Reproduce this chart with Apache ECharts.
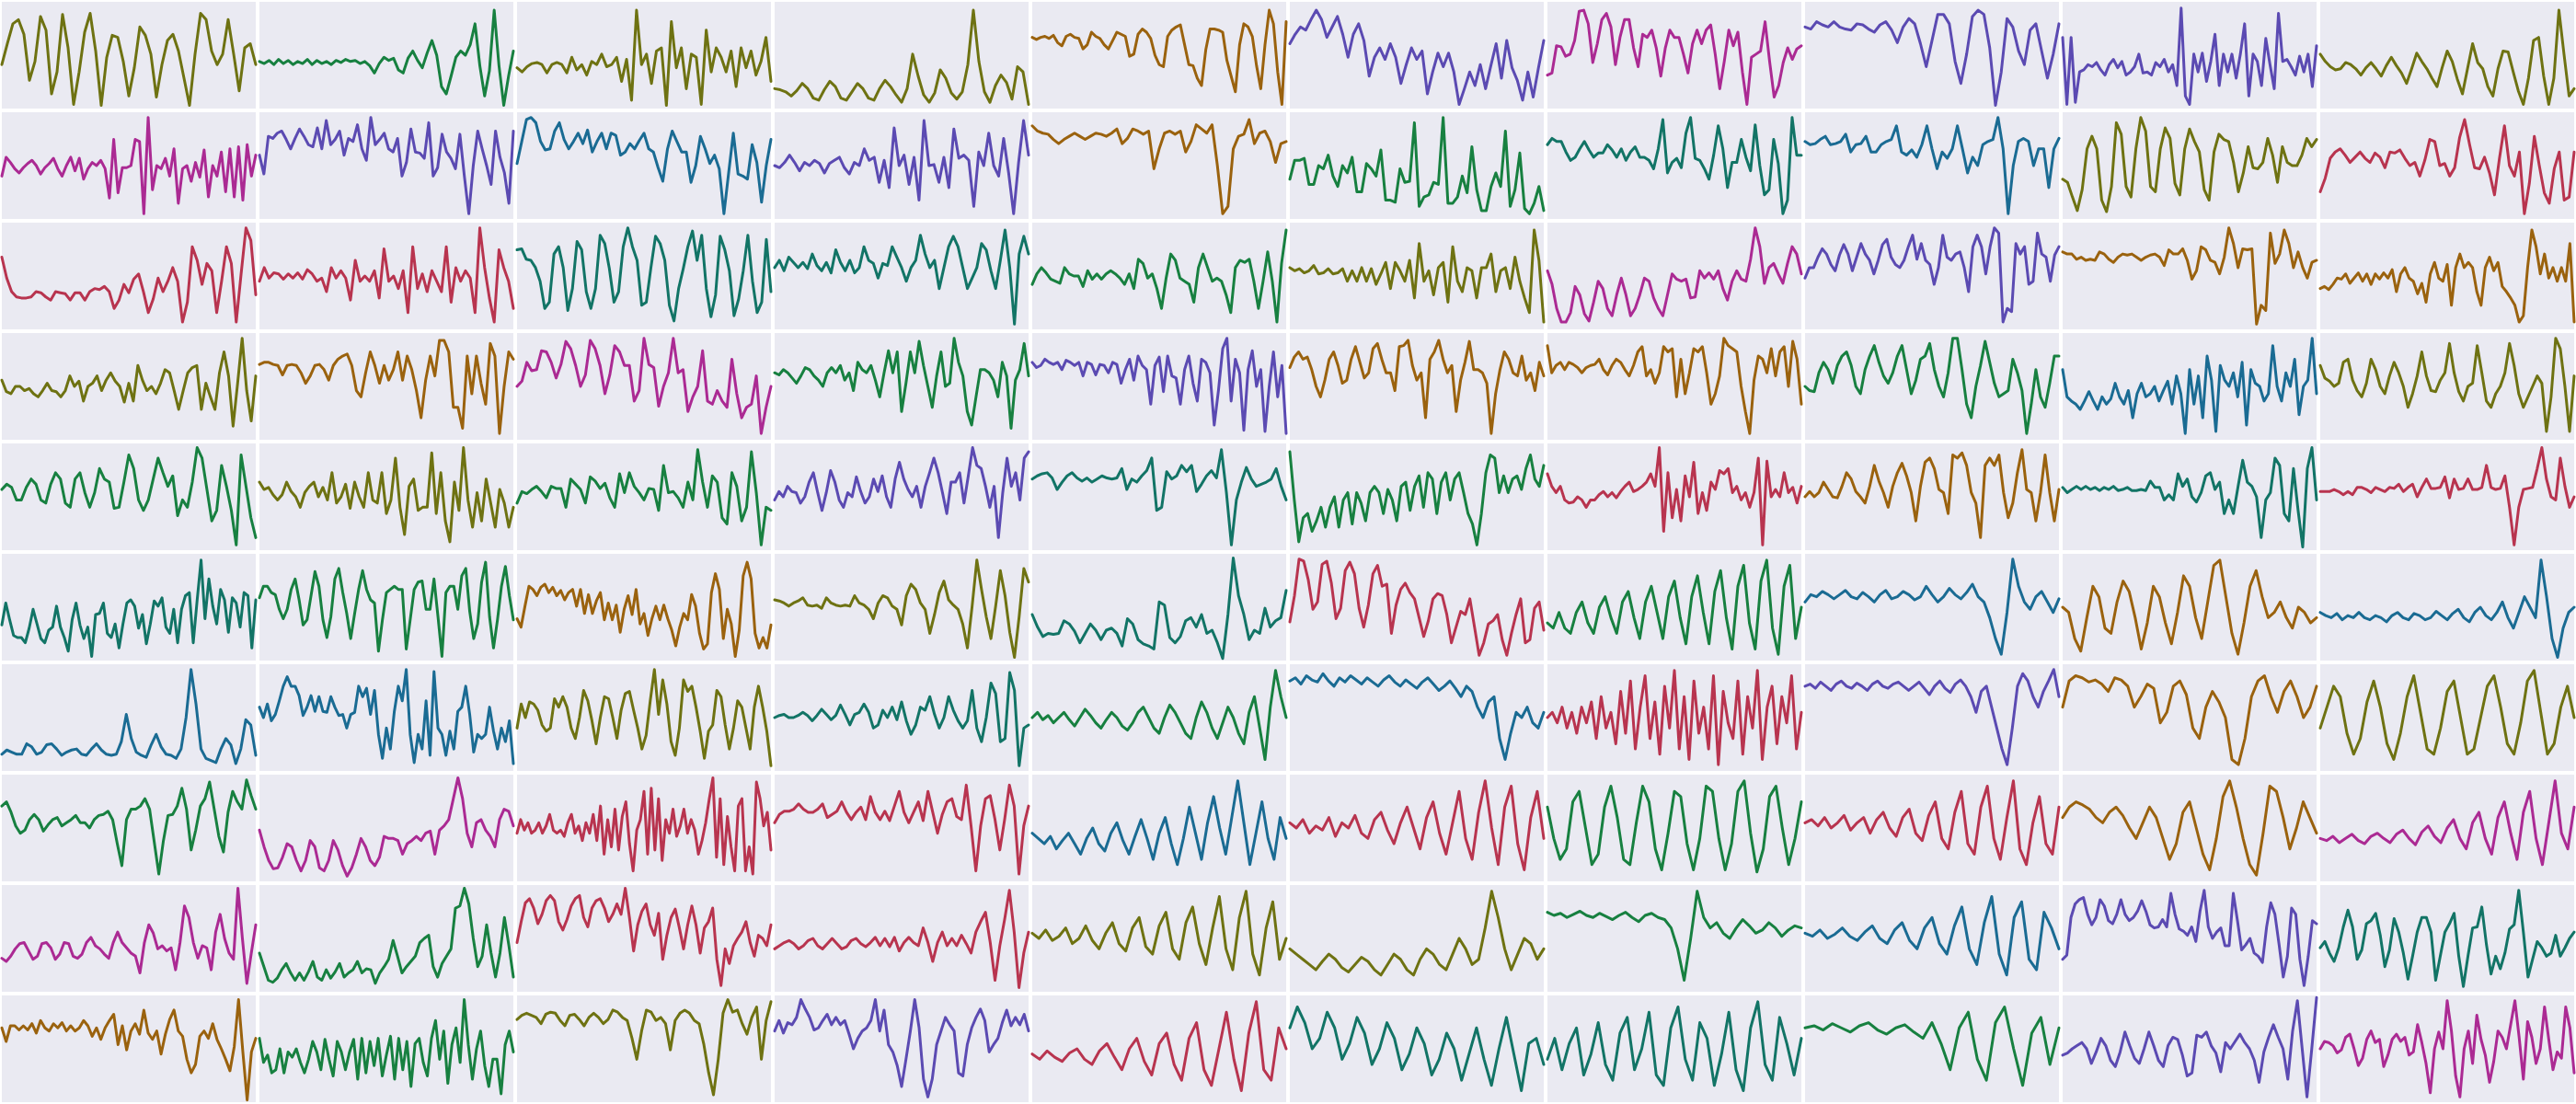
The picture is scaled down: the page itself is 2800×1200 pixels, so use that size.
<!DOCTYPE html>
<html><head><meta charset="utf-8">
<script src="https://cdn.jsdelivr.net/npm/echarts@6/dist/echarts.min.js"></script>
<style>html,body{margin:0;padding:0;background:#ffffff}#c{width:2800px;height:1200px}</style>
</head><body><div id="c"></div><script>
// Row 0
const v00=[41,61,80,84,70,26,44,87,74,13,34,89,57,3,34,72,90,54,2,48,69,67,44,11,38,77,69,51,10,41,64,70,54,28,2,51,90,84,54,41,51,84,51,16,57,61,41];
const v01=[44,42,45,41,46,42,45,41,44,42,46,41,45,42,44,41,45,43,46,44,45,42,44,40,33,42,48,45,47,36,33,47,54,45,38,52,64,50,20,13,30,48,54,50,60,80,40,11,35,93,40,2,30,54];
const v02=[38,34,39,42,43,41,33,41,43,41,33,48,36,41,31,44,41,51,39,41,48,25,46,7,93,41,51,23,54,57,2,82,38,57,18,51,48,3,74,34,57,48,34,54,20,57,38,54,31,44,67,25];
const v03=[18,17,15,11,16,23,18,9,7,17,25,20,9,7,15,23,18,9,7,18,26,20,12,5,18,51,30,12,5,14,36,28,14,8,15,41,93,44,15,5,21,31,24,8,39,34,3];
const v04=[67,65,67,68,66,69,62,59,68,70,67,66,56,60,72,68,66,60,56,64,72,70,68,49,51,70,75,72,66,50,41,39,68,74,77,79,60,41,40,28,21,55,75,75,74,72,45,30,15,60,80,77,68,40,18,60,93,80,34,3,82];
const v05=[61,70,77,74,84,93,84,67,77,87,70,48,70,80,64,30,48,57,46,61,48,23,41,57,46,54,13,34,52,39,52,34,3,18,34,21,41,18,40,61,28,64,38,26,7,34,10,38,64];
const v06=[31,33,59,58,49,51,64,92,93,80,43,61,84,90,77,41,67,84,84,57,39,70,67,74,57,30,57,74,67,67,51,33,61,74,61,74,79,51,18,44,74,59,72,34,3,48,51,54,82,44,10,21,43,57,46,56,59];
const v07=[77,75,82,79,77,82,77,75,74,80,79,75,72,79,82,74,62,77,85,80,61,39,64,89,89,80,44,23,51,87,93,89,57,2,34,85,77,54,41,74,80,54,28,51,80];
const v08=[67,3,67,5,34,36,41,39,43,36,31,41,46,38,44,31,34,39,51,33,34,31,43,39,46,34,41,21,95,11,3,51,34,52,25,44,70,21,51,34,51,28,51,80,11,51,44,21,66,41,18,90,44,46,39,31,49,34,51,20,59];
const v09=[51,44,39,36,37,43,41,37,31,38,43,37,30,40,48,40,33,23,37,52,44,37,28,20,38,54,44,27,13,37,61,43,37,20,11,37,54,53,34,16,3,28,64,67,30,3,28,93,51,11,18];
// Row 1
const v10=[40,58,53,47,43,48,52,55,50,42,48,52,57,47,40,50,58,45,57,37,47,53,50,55,47,19,75,24,48,48,50,75,73,4,96,27,50,47,57,40,66,14,47,50,35,53,39,65,20,50,40,63,25,66,20,68,17,70,40,60];
const v11=[60,42,78,76,81,83,75,66,76,85,78,70,68,86,66,93,70,75,83,60,76,73,89,66,55,96,70,75,81,66,63,76,40,53,85,63,62,57,91,40,48,80,63,57,47,80,40,4,50,83,66,50,32,83,58,43,14,83];
const v12=[52,73,94,96,91,73,65,66,83,91,75,66,73,81,71,84,63,73,81,66,81,79,60,63,71,66,74,81,66,63,48,35,66,83,73,63,63,34,50,78,66,52,60,47,4,43,81,42,40,37,70,53,15,50,75];
const v13=[50,48,53,60,53,45,53,50,55,52,43,52,55,58,48,42,53,50,66,55,58,34,55,29,86,50,60,32,58,17,93,50,51,34,58,29,85,57,60,55,11,63,50,81,50,40,76,43,4,53,93,60];
const v14=[88,83,81,80,75,71,75,78,81,78,75,78,81,80,78,81,85,71,76,85,83,80,83,47,66,81,83,80,83,63,73,89,85,81,89,50,4,11,66,78,80,94,71,81,83,73,53,71,73];
const v15=[37,55,55,57,32,32,50,47,60,40,30,50,43,58,25,25,52,47,40,65,17,17,15,47,34,35,91,11,20,22,34,32,96,14,14,20,40,24,68,27,7,7,30,43,30,83,11,27,62,9,4,14,30,7];
const v16=[70,76,73,73,63,55,58,66,73,65,58,62,62,70,65,58,66,55,63,68,58,58,55,47,66,94,43,53,57,48,81,96,57,55,47,37,60,88,66,29,53,53,75,58,45,89,50,22,27,75,52,4,17,96,60,60];
const v17=[73,70,71,75,78,70,71,73,80,63,70,71,78,63,63,70,73,75,88,63,60,65,58,70,88,66,47,63,57,66,88,66,43,58,50,70,73,75,96,66,4,50,73,76,73,50,66,66,29,66,76];
const v18=[37,34,20,7,27,66,78,66,17,6,30,91,80,30,20,66,96,83,30,25,66,86,76,33,22,66,85,73,63,27,17,63,80,75,73,53,25,43,68,48,47,53,76,60,34,68,53,50,50,60,76,68,75];
const v19=[25,38,57,63,66,60,53,58,63,57,53,62,58,48,63,62,65,57,50,53,40,55,75,73,50,52,40,48,77,94,70,48,47,58,43,22,57,88,50,40,63,4,33,78,50,24,14,47,63,17,20,63];
// Row 2
const v20=[68,48,35,30,29,29,30,35,34,30,27,35,34,33,27,34,34,27,35,38,37,40,35,19,27,42,34,47,52,35,15,28,48,35,45,58,45,6,25,78,65,42,62,55,15,45,78,62,6,52,96,84,32];
const v21=[45,58,48,53,52,47,52,48,53,47,56,52,45,48,35,58,48,55,48,27,65,45,50,45,55,29,76,45,50,38,55,15,78,38,52,35,55,45,35,78,25,58,45,55,48,15,96,58,29,6,75,58,45,19];
const v22=[75,76,66,65,58,45,19,25,71,78,58,17,38,83,75,35,19,38,89,81,57,25,35,78,96,78,65,22,25,58,88,81,65,22,7,38,57,78,93,65,89,38,11,32,88,75,55,12,28,55,89,45,15,25,85,35];
const v23=[58,65,55,68,63,58,63,57,71,60,55,63,53,75,63,55,65,53,58,78,65,62,48,62,60,78,68,58,45,58,65,89,71,58,65,38,58,78,88,78,58,38,48,58,81,75,55,38,65,94,58,4,71,88,71];
const v24=[42,52,58,53,47,45,43,58,52,50,50,40,55,47,52,47,52,55,52,48,42,52,38,66,62,48,52,38,19,48,71,65,48,45,42,25,58,71,58,45,48,45,32,15,58,65,63,66,45,19,45,73,45,6,62,94];
const v25=[58,55,57,53,55,60,52,53,57,52,53,57,45,55,45,58,45,57,42,52,63,38,63,55,45,65,29,81,45,55,32,58,63,25,78,45,35,58,55,29,58,58,71,35,55,58,38,68,45,29,15,94,65,6];
const v26=[55,42,19,6,6,15,40,32,14,7,25,45,38,19,12,32,48,32,12,19,32,48,45,29,19,12,32,52,47,45,47,29,30,55,48,53,47,55,38,27,45,55,47,45,66,96,78,43,58,62,52,43,62,78,71,52];
const v27=[48,58,58,68,76,71,61,55,70,80,71,55,68,81,71,65,52,65,80,85,68,61,58,65,78,89,66,81,65,61,42,58,89,68,65,71,73,58,35,78,89,78,52,78,96,91,6,19,16,81,71,78,42,45,91,71,68,45,70,78];
const v28=[73,71,71,66,68,65,66,65,73,71,66,63,68,71,70,71,68,65,68,70,71,68,60,75,71,71,76,65,47,55,78,75,65,63,52,68,96,81,58,76,75,76,4,22,17,91,62,71,94,81,58,73,58,48,63,65];
const v29=[38,40,37,42,48,47,52,43,48,53,45,52,42,52,47,53,48,56,35,52,58,48,45,33,43,25,52,63,48,45,61,22,58,71,58,63,58,35,22,58,68,55,63,40,35,29,22,6,12,58,94,78,52,71,48,58,45,58,45,81,6];
// Row 3
const v30=[56,45,43,50,50,46,48,43,40,46,53,46,45,40,46,60,50,55,36,50,53,60,46,56,63,55,50,35,53,36,70,56,46,50,43,53,66,63,46,28,46,63,68,70,28,53,40,28,63,83,60,12,53,96,46,17,60];
const v31=[71,73,73,71,70,61,70,71,70,63,53,60,70,71,66,56,70,76,79,81,70,46,40,63,83,70,53,70,56,66,83,56,79,66,46,20,56,79,60,94,94,83,30,30,10,79,43,79,53,33,91,79,5,50,83,76];
const v32=[50,55,73,65,66,84,83,73,58,71,93,86,70,50,61,94,86,70,43,61,89,83,70,70,36,46,96,71,68,31,50,63,96,63,66,26,40,50,84,36,33,46,36,30,76,43,20,30,33,60,5,30,50];
const v33=[63,61,66,63,58,53,60,68,66,60,56,50,63,68,63,70,56,63,46,73,66,63,70,56,40,63,84,63,83,26,53,83,63,93,70,50,30,60,83,50,53,96,73,60,26,13,40,66,66,63,56,40,73,60,10,56,66,91,60];
const v34=[73,68,70,76,73,71,73,66,75,73,70,73,60,73,71,61,71,70,63,73,71,53,66,76,56,79,70,66,33,70,78,45,79,60,58,33,66,79,53,36,76,73,63,13,46,86,96,36,76,63,8,66,84,50,66,7,50,83,40,70,5];
const v35=[68,78,83,76,78,66,50,40,56,76,83,70,53,56,76,88,73,58,63,86,91,76,63,63,46,88,89,94,70,56,63,20,76,83,94,76,63,70,26,56,73,93,66,66,63,53,5,43,66,83,76,63,60,79,56,63,46,73,60];
const v36=[89,63,70,73,66,73,71,68,63,68,70,71,76,66,61,70,76,73,66,60,70,83,88,60,66,53,63,88,83,86,40,76,43,63,86,83,88,63,33,43,60,96,89,86,83,50,26,5,56,79,76,63,86,60,83,88,50,93,76,33];
const v37=[50,46,45,63,73,66,53,70,79,83,70,50,43,66,79,89,73,60,53,63,79,89,66,43,56,76,79,91,66,50,40,63,96,96,66,33,20,50,70,93,73,53,40,43,46,76,63,46,5,33,66,40,30,53,79,79];
const v38=[66,40,36,33,28,36,45,36,28,40,33,38,53,40,33,46,20,43,53,40,43,50,36,46,55,33,60,43,5,66,33,60,20,79,56,7,70,56,50,63,40,73,13,66,53,50,36,43,89,50,36,63,50,76,23,50,56,96,43];
const v39=[70,58,55,50,53,73,76,56,46,40,53,76,66,50,43,60,73,63,50,30,43,60,83,60,46,45,56,63,91,63,45,36,50,53,89,63,36,30,43,50,63,91,70,43,30,40,50,60,53,7,40,96,86,50,7,60];
// Row 4
const v40=[57,62,59,47,47,59,67,62,47,44,62,73,67,44,40,67,73,54,40,54,77,67,64,39,40,64,90,77,47,37,47,67,87,73,60,70,32,47,40,64,97,87,57,27,37,80,60,37,4,90,60,30,11];
const v41=[64,57,59,52,47,52,64,55,50,40,54,60,64,50,59,47,73,44,50,62,39,64,50,40,73,47,44,73,34,47,87,40,14,60,67,37,40,40,92,34,73,27,7,64,37,97,47,21,54,27,67,44,21,57,44,21,40];
const v42=[44,55,53,57,60,55,49,60,58,58,40,67,62,57,44,69,65,58,63,49,40,72,54,73,60,54,47,58,57,37,80,54,55,49,40,64,47,95,64,40,70,64,30,24,73,60,27,40,93,54,4,40,37];
const v43=[47,55,50,60,55,54,44,50,64,73,54,37,54,75,64,47,40,54,50,69,55,44,50,67,55,70,50,40,67,83,67,57,50,60,40,60,73,87,73,54,34,64,64,73,44,70,97,80,77,60,40,60,11,54,87,60,73,47,87,93];
const v44=[67,70,72,73,68,57,64,70,73,68,65,68,64,67,70,68,67,68,77,57,67,64,70,75,87,37,40,74,67,70,80,74,80,55,62,70,75,68,95,54,4,47,64,78,67,60,62,64,67,77,60,47];
const v45=[93,47,7,30,34,17,27,40,21,40,50,21,47,54,24,54,44,27,54,60,54,34,57,47,27,60,64,37,60,70,40,73,67,34,64,73,47,67,73,54,34,24,4,34,73,90,87,54,70,54,67,70,57,77,90,67,60,80];
const v46=[72,60,54,60,47,44,45,50,47,40,47,47,52,55,50,54,49,55,60,64,55,57,60,64,72,60,97,17,73,30,57,27,70,50,83,34,54,37,64,57,75,72,77,54,60,47,54,40,54,87,4,84,50,57,50,73,54,59,44,60];
const v47=[50,55,50,54,64,57,50,49,60,73,67,55,50,44,60,80,65,54,40,60,73,82,70,54,27,60,83,87,77,57,54,34,90,87,92,80,54,44,11,80,87,80,90,54,30,44,73,95,57,54,27,54,90,54,27,57];
const v48=[59,54,57,60,57,60,57,59,56,59,57,60,56,57,59,56,56,57,56,65,59,59,47,52,47,72,60,67,50,45,54,70,73,57,64,34,47,34,60,85,64,60,50,11,47,54,87,80,34,27,77,37,2,77,97,47];
const v49=[55,55,55,57,55,52,55,52,59,59,57,54,59,57,55,59,58,62,55,59,62,50,59,67,58,58,59,69,49,67,57,58,67,57,57,59,80,59,57,58,70,40,4,40,57,58,59,77,97,67,50,47,87,60,40,50];
// Row 5
const v50=[33,54,38,23,21,21,16,30,48,34,20,16,28,31,51,31,21,8,38,54,33,20,31,3,43,44,54,25,21,34,11,34,54,57,51,30,43,15,34,56,51,59,31,25,48,16,48,61,64,16,57,95,39,77,51,34,67,57,26,59,54,31,64,61,11,57];
const v51=[59,70,70,64,62,48,39,48,67,77,57,33,38,61,84,70,38,21,41,77,87,64,44,20,44,67,85,67,57,54,8,38,64,67,70,67,67,10,38,67,74,75,48,48,77,41,3,64,70,70,48,80,87,46,20,34,74,93,41,11,38,70,89,61,38];
const v52=[39,31,51,70,67,61,69,72,64,69,61,66,57,64,67,51,67,44,62,44,56,64,38,54,38,52,26,48,61,43,67,34,44,23,39,51,38,52,39,28,13,31,44,38,62,51,25,10,15,64,82,67,20,48,34,3,28,80,93,77,25,11,21,11,33];
const v53=[57,56,54,51,54,56,59,52,51,52,49,59,54,52,51,52,51,61,54,52,48,39,54,61,59,51,48,33,61,72,67,54,48,25,43,64,75,57,52,48,34,11,51,95,67,41,20,51,85,61,26,2,41,87,74];
const v54=[43,31,22,25,24,25,37,34,27,16,25,34,28,19,28,30,25,13,39,34,19,15,13,10,55,52,21,16,22,37,40,31,43,25,28,16,1,43,97,61,43,19,28,25,49,31,37,40,66];
const v55=[36,61,96,94,76,48,55,91,94,73,39,49,85,93,82,49,31,52,82,90,70,72,25,52,67,73,64,58,40,22,37,58,63,61,43,16,31,46,43,58,31,4,16,34,37,43,19,4,25,43,58,16,19,49,55,28];
const v56=[35,30,45,30,25,45,55,35,25,50,60,40,25,55,65,40,20,55,70,45,20,60,75,40,15,60,80,45,15,65,85,40,10,70,90,35,10,75,95,30,5,70,90,20,50];
const v57=[55,62,60,65,62,58,62,66,60,58,64,60,55,62,66,58,60,65,62,57,60,70,62,55,60,68,62,58,64,72,60,55,40,20,5,45,96,70,55,48,60,65,55,45,58];
const v58=[50,45,20,8,40,70,60,30,25,55,75,65,40,10,35,70,60,35,15,45,80,70,40,20,55,90,95,60,25,5,35,70,85,60,40,45,55,40,30,50,45,35,40];
const v59=[45,42,40,44,38,42,40,45,40,38,42,40,36,42,45,40,38,44,42,38,40,46,42,38,44,48,40,36,45,50,42,38,45,55,40,30,45,60,50,40,95,60,20,2,30,45,50];
// Row 6
const v60=[15,19,17,15,15,25,22,15,17,24,25,20,14,17,19,20,15,14,20,25,19,15,14,15,27,53,30,17,14,12,24,34,22,15,14,11,20,50,96,63,20,11,9,7,20,30,24,6,20,48,43,14];
const v61=[60,50,63,47,53,66,80,89,80,80,71,52,60,71,56,70,56,55,70,60,52,53,40,53,55,80,70,78,53,76,34,11,40,20,56,80,66,96,34,7,34,20,66,14,94,40,34,14,37,20,56,60,80,53,17,34,30,34,60,37,20,40,27,47,6];
const v62=[40,63,50,65,63,57,43,37,40,68,60,70,60,40,30,50,76,66,47,25,50,70,68,50,30,57,73,75,57,40,20,33,66,96,53,86,63,27,14,40,86,75,80,60,37,11,37,43,76,70,43,20,40,66,60,40,20,60,80,60,37,4];
const v63=[50,52,53,50,50,52,55,52,47,52,58,53,48,52,62,53,43,53,55,63,55,40,43,57,50,60,48,65,47,34,43,60,57,70,53,40,50,70,57,47,40,47,76,40,27,50,83,73,27,30,93,76,4,40,43];
const v64=[50,55,48,52,45,50,55,48,42,50,58,52,45,40,48,55,50,42,38,45,55,60,50,40,35,50,62,55,45,35,30,50,65,55,40,30,45,60,50,35,25,55,70,40,10,60,95,70,50];
const v65=[85,88,82,90,86,84,92,85,80,88,84,90,86,82,88,84,80,86,90,84,80,86,82,78,84,88,82,76,80,85,78,70,80,75,60,50,65,70,30,10,35,55,50,60,45,40,55];
const v66=[50,55,45,60,40,55,35,60,45,65,30,70,40,55,25,75,35,85,20,60,90,30,65,15,80,40,95,20,70,10,85,35,60,20,90,5,75,45,30,85,15,70,40,95,10,60,80,25,70,45,90,20,55];
const v67=[80,82,78,84,80,76,82,85,80,78,83,80,76,82,85,80,78,82,84,80,76,80,84,78,72,80,85,78,74,82,86,80,70,55,75,80,60,40,20,5,40,80,92,85,70,60,75,85,96,70];
const v68=[60,85,90,88,84,86,82,75,88,86,80,60,70,82,78,45,55,80,85,72,40,30,60,75,65,50,10,5,30,70,85,90,70,55,75,85,70,50,60,80];
const v69=[40,60,80,70,35,15,30,65,85,60,25,10,35,70,90,55,20,15,40,75,85,50,15,20,50,80,90,60,25,15,45,85,95,55,15,25,60,80,50];
// Row 7
const v70=[71,75,65,52,45,48,58,63,58,47,53,58,60,52,55,58,62,55,55,50,58,62,63,66,58,35,14,58,68,68,71,78,68,37,6,38,62,63,71,88,68,29,48,71,78,94,68,42,27,65,85,75,68,96,81,68];
const v71=[48,32,19,11,12,22,35,32,19,9,19,38,32,12,9,19,38,29,14,4,12,25,40,32,19,14,22,42,40,40,38,25,35,38,42,38,45,47,25,48,52,58,78,98,78,45,32,55,58,48,42,32,58,68,66,52];
const v72=[45,58,48,55,45,48,55,45,52,63,48,45,48,42,55,63,45,52,38,55,45,63,38,71,25,58,32,68,29,61,75,35,9,48,58,85,25,88,29,78,19,58,45,68,42,52,68,45,58,48,25,38,55,78,98,22,78,15,61,32,9,71,78,9,32,6,94,78,52,65,29];
const v73=[55,63,66,66,68,73,68,65,65,68,73,60,63,66,75,65,58,65,70,58,80,65,58,66,57,71,85,65,55,65,75,57,85,65,45,63,75,78,61,58,91,52,9,52,78,81,58,29,58,91,71,6,52,71];
const v74=[45,40,35,42,30,38,45,35,25,40,50,35,28,45,55,38,25,42,58,40,20,45,60,35,15,40,70,45,20,55,80,50,25,60,95,55,15,45,75,40,20,60,40];
const v75=[55,50,58,45,52,48,60,42,55,50,62,45,40,58,65,48,35,55,70,50,30,60,75,45,25,55,85,40,20,65,95,50,15,70,90,35,10,60,85,40];
const v76=[70,40,20,30,75,85,50,15,25,70,90,60,20,15,55,90,75,30,10,45,85,80,35,10,40,90,85,40,10,35,85,95,45,8,30,80,90,50,15,40,75];
const v77=[55,58,52,60,50,55,62,48,55,60,45,58,65,50,42,60,68,45,38,62,75,40,30,65,85,35,25,70,90,40,20,60,95,30,15,55,80,35,25,70];
const v78=[60,70,75,72,68,60,55,65,70,62,50,40,55,70,60,40,20,35,65,75,50,25,10,40,80,95,70,40,15,5,45,90,85,60,30,50,75,60,45];
const v79=[40,38,42,36,40,44,38,35,42,45,40,36,44,48,40,34,46,52,42,36,50,58,40,30,55,65,40,25,60,75,45,20,65,85,40,15,55,95,45,30,70];
// Row 8
const v80=[31,28,33,40,45,46,38,30,33,45,46,41,30,35,46,45,33,31,35,46,51,43,40,35,31,46,56,46,41,36,33,17,46,63,55,40,43,38,41,20,46,81,70,46,31,43,41,20,56,73,50,36,30,98,50,7,36,63];
const v81=[36,23,10,8,12,20,26,17,10,17,10,18,28,13,10,20,12,18,26,13,17,20,28,17,21,20,7,17,23,30,48,33,17,23,28,33,46,50,53,23,13,26,33,40,79,81,98,83,50,23,33,63,36,13,36,70,43,13];
const v82=[46,66,84,88,79,64,73,86,91,86,66,58,68,81,88,91,70,61,79,86,88,79,66,73,83,73,98,70,38,63,76,83,63,53,74,30,53,70,78,60,40,63,81,63,36,60,66,79,30,5,40,26,43,50,56,66,46,33,53,50,43,63];
const v83=[40,43,46,48,45,40,43,48,50,43,40,45,50,45,40,42,48,50,45,42,46,51,43,50,42,51,38,46,51,46,43,60,46,28,46,56,43,50,43,53,45,36,56,66,75,46,10,43,68,96,56,3,36,56];
const v84=[55,50,58,48,52,60,45,50,62,48,40,55,65,45,38,60,70,42,35,62,75,40,30,65,80,45,25,60,90,40,20,70,95,35,15,60,85,30,50];
const v85=[40,35,30,25,20,28,35,30,22,18,25,32,28,20,15,25,35,30,20,15,30,40,35,25,20,35,50,40,25,30,60,95,70,40,20,35,50,45,30,40];
const v86=[75,72,74,70,73,76,72,70,74,71,68,72,75,70,66,72,74,70,68,60,40,10,50,95,70,60,65,55,50,60,68,62,55,58,65,60,52,58,62,60];
const v87=[55,52,58,50,54,60,52,48,56,62,50,45,58,65,48,40,60,70,45,35,62,80,40,25,65,90,35,15,70,85,30,20,75,60,40];
const v88=[30,34,70,83,87,89,73,63,70,87,81,67,64,73,87,73,67,70,76,86,76,63,60,61,68,61,93,73,59,57,53,61,47,76,96,61,50,56,60,43,43,93,67,39,44,50,36,33,27,61,84,73,44,13,33,79,73,30,5,33,67,64];
const v89=[41,47,36,28,41,61,77,61,30,39,64,67,74,53,23,39,69,56,36,11,33,56,70,70,56,10,33,56,64,74,33,4,33,60,61,80,44,16,33,21,36,59,63,96,56,13,30,47,41,33,36,53,33,41,50,56];
// Row 9
const v90=[70,57,72,72,68,72,68,74,65,77,70,67,74,70,75,67,72,67,70,77,72,62,70,59,70,77,83,54,72,49,67,74,64,87,65,59,67,45,64,78,87,67,62,40,27,35,62,67,60,74,59,50,40,29,52,97,47,1,47,60];
const v91=[60,37,44,27,30,50,27,47,42,50,37,27,40,57,47,30,59,40,24,57,47,30,47,59,21,60,27,57,34,60,24,44,62,21,60,30,57,14,55,60,37,24,60,77,40,67,17,54,70,37,97,54,21,50,67,34,14,40,40,7,54,67,47];
const v92=[78,82,84,82,80,74,83,85,84,77,72,82,83,78,72,80,84,80,74,78,87,85,80,77,60,40,67,87,85,77,80,74,49,77,84,87,84,77,74,54,27,6,40,84,97,85,87,74,64,80,90,40,77,95];
const v93=[67,77,65,75,73,80,97,88,80,68,70,77,83,73,80,73,77,64,50,60,67,70,77,97,67,87,54,47,34,14,40,67,97,70,21,4,21,54,67,80,73,67,27,24,54,70,80,88,77,47,54,60,75,87,72,80,73,83,67];
const v94=[45,40,48,42,38,46,50,40,35,48,55,42,30,50,60,38,25,55,65,35,20,60,75,30,15,50,85,40,10,65,95,30,20,70,50];
const v95=[70,90,75,50,60,85,70,40,55,80,65,35,50,75,60,30,45,70,55,25,40,65,50,20,45,70,40,15,50,80,45,10,55,60,35];
const v96=[40,60,30,55,70,25,45,75,35,20,65,80,30,50,85,25,15,70,90,40,20,75,60,15,45,85,30,10,70,95,35,20,80,55,25,60];
const v97=[70,72,68,74,70,66,72,75,68,64,70,73,66,60,75,55,30,70,85,40,20,75,90,50,15,65,80,35,70];
const v98=[44,46,50,53,56,50,36,47,60,53,39,33,47,66,53,41,36,50,66,53,39,33,53,61,59,44,24,27,63,61,66,53,46,28,56,50,57,64,56,50,39,18,47,61,73,61,50,21,67,96,50,4,50,99];
const v99=[50,57,56,53,46,49,61,64,50,34,41,59,67,56,59,33,44,59,64,57,61,44,47,73,56,36,8,50,66,50,96,67,24,4,50,67,36,82,59,44,18,38,67,61,50,73,96,61,21,76,61,36,50,90,59,30,47,41,90,70,27];

// Colour of each panel, row by row
const cellColors=[
 ['olive','green','olive','olive','orange','purple','magenta','purple','purple','olive'],
 ['magenta','purple','blue','purple','orange','green','teal','blue','olive','red'],
 ['red','red','teal','teal','green','olive','magenta','purple','orange','orange'],
 ['olive','orange','magenta','green','purple','orange','orange','green','blue','olive'],
 ['green','olive','green','purple','teal','green','red','orange','teal','red'],
 ['teal','green','orange','olive','teal','red','green','blue','orange','blue'],
 ['blue','blue','olive','teal','green','blue','red','purple','orange','olive'],
 ['green','magenta','red','red','blue','red','green','red','orange','magenta'],
 ['magenta','green','red','red','olive','olive','green','blue','purple','teal'],
 ['orange','green','olive','purple','red','teal','teal','green','purple','magenta']
];
const palette={red:'#b8344f',orange:'#9a620e',olive:'#6e7212',green:'#178040',teal:'#127466',blue:'#1a6b93',purple:'#5b4ab2',magenta:'#ab2a93'};

const panels=[
 [v00,v01,v02,v03,v04,v05,v06,v07,v08,v09],
 [v10,v11,v12,v13,v14,v15,v16,v17,v18,v19],
 [v20,v21,v22,v23,v24,v25,v26,v27,v28,v29],
 [v30,v31,v32,v33,v34,v35,v36,v37,v38,v39],
 [v40,v41,v42,v43,v44,v45,v46,v47,v48,v49],
 [v50,v51,v52,v53,v54,v55,v56,v57,v58,v59],
 [v60,v61,v62,v63,v64,v65,v66,v67,v68,v69],
 [v70,v71,v72,v73,v74,v75,v76,v77,v78,v79],
 [v80,v81,v82,v83,v84,v85,v86,v87,v88,v89],
 [v90,v91,v92,v93,v94,v95,v96,v97,v98,v99]
];

const grids=[],xAxes=[],yAxes=[],series=[];
let k=0;
for(let r=0;r<10;r++){
  for(let c=0;c<10;c++){
    const d=panels[r][c];
    grids.push({left:2+280*c,top:2+120*r,width:276,height:116,show:true,backgroundColor:'#EAEAF2',borderWidth:0});
    xAxes.push({gridIndex:k,type:'value',min:0,max:d.length-1,show:false});
    yAxes.push({gridIndex:k,type:'value',min:-1,max:101,show:false});
    series.push({type:'line',xAxisIndex:k,yAxisIndex:k,data:d.map((y,i)=>[i,y]),showSymbol:false,symbol:'none',silent:true,
      lineStyle:{width:3,color:palette[cellColors[r][c]],join:'round',cap:'round'}});
    k++;
  }
}
const chart=echarts.init(document.getElementById('c'),null,{renderer:'canvas'});
chart.setOption({animation:false,backgroundColor:'#ffffff',grid:grids,xAxis:xAxes,yAxis:yAxes,series:series});
</script></body></html>
